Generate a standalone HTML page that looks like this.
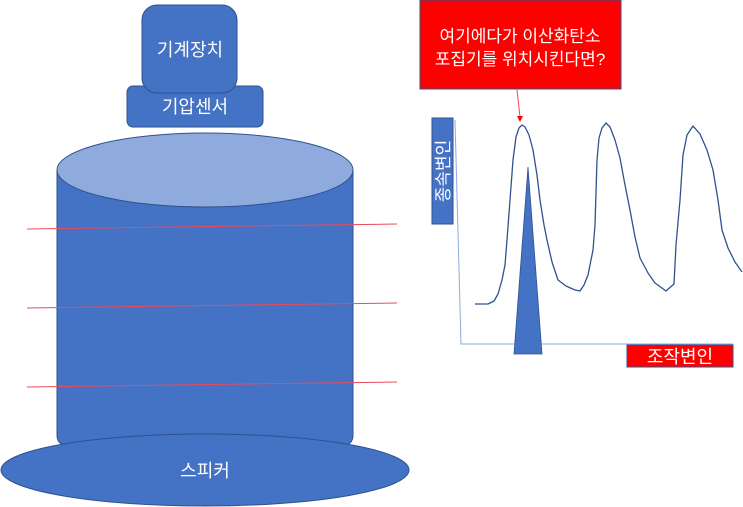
<!DOCTYPE html>
<html><head><meta charset="utf-8"><style>
html,body{margin:0;padding:0;background:#fff;}
svg{display:block;}
text{font-family:"Liberation Sans","Noto Sans CJK KR",sans-serif;fill:#fff;}
</style></head><body>
<svg width="743" height="507" viewBox="0 0 743 507" xmlns="http://www.w3.org/2000/svg">
<path d="M57,170 L57,435 Q57,445 67,445 L343,445 Q353,445 353,435 L353,170 Z" fill="#4472c4" stroke="#2f528f" stroke-width="1"/>
<ellipse cx="205" cy="170" rx="148" ry="37" fill="#8faadc" stroke="#2f528f" stroke-width="1"/>
<ellipse cx="205" cy="470" rx="204" ry="36" fill="#4472c4" stroke="#2f528f" stroke-width="1"/>
<text x="205" y="477" font-size="18" text-anchor="middle">스피커</text>
<rect x="127" y="86" width="136" height="41" rx="6" fill="#4472c4" stroke="#2f528f"/>
<rect x="142" y="5" width="95" height="88" rx="15" fill="#4472c4" stroke="#2f528f"/>
<text x="190" y="56" font-size="18" text-anchor="middle">기계장치</text>
<text x="195" y="113" font-size="18" text-anchor="middle">기압센서</text>
<line x1="27" y1="229" x2="397" y2="224" stroke="#e84c5c" stroke-width="1"/>
<line x1="27" y1="308" x2="397" y2="303" stroke="#e84c5c" stroke-width="1"/>
<line x1="27" y1="387" x2="397" y2="382" stroke="#e84c5c" stroke-width="1"/>
<rect x="420" y="0" width="201" height="89" fill="#ff0000" stroke="#2f528f"/>
<text x="520" y="42" font-size="17" text-anchor="middle">여기에다가 이산화탄소</text>
<text x="520" y="65" font-size="17" text-anchor="middle">포집기를 위치시킨다면?</text>
<line x1="517" y1="90" x2="520" y2="117" stroke="#ff4040" stroke-width="1"/>
<polygon points="517,116 523,116 520,122" fill="#ff0000"/>
<polyline points="455,120 461,344 733,344" fill="none" stroke="#8faadc" stroke-width="1"/>
<rect x="432" y="118" width="21" height="106" fill="#4472c4" stroke="#2f528f"/>
<text transform="translate(449,171) rotate(-90)" font-size="17" text-anchor="middle">종속변인</text>
<rect x="627" y="345" width="106" height="22" fill="#ff0000" stroke="#2f528f"/>
<text x="680" y="363" font-size="18" text-anchor="middle">조작변인</text>
<polyline fill="none" stroke="#2f528f" stroke-width="1.3" stroke-linejoin="round" points="475,304 488,304 494,301 498,294 502,280 505,265 507,240 510,200 513,160 516,137 519,128 522,125 525,127 529,135 533,150 537,175 540,200 544,225 547,240 552,262 558,280 566,286 575,290 580,291 584,285 588,275 593,250 595,225 597,160 599,138 602,128 606,123 610,127 615,140 620,158 625,185 630,210 635,237 640,258 648,273 655,283 666,291 674,284 676,245 680,200 683,155 687,135 693,126 700,134 707,150 713,170 718,200 722,230 728,248 735,262 742,272"/>
<polygon points="528,167 514,354 542,354" fill="#4472c4" stroke="#2f528f" stroke-width="0.8"/>
</svg>
</body></html>
